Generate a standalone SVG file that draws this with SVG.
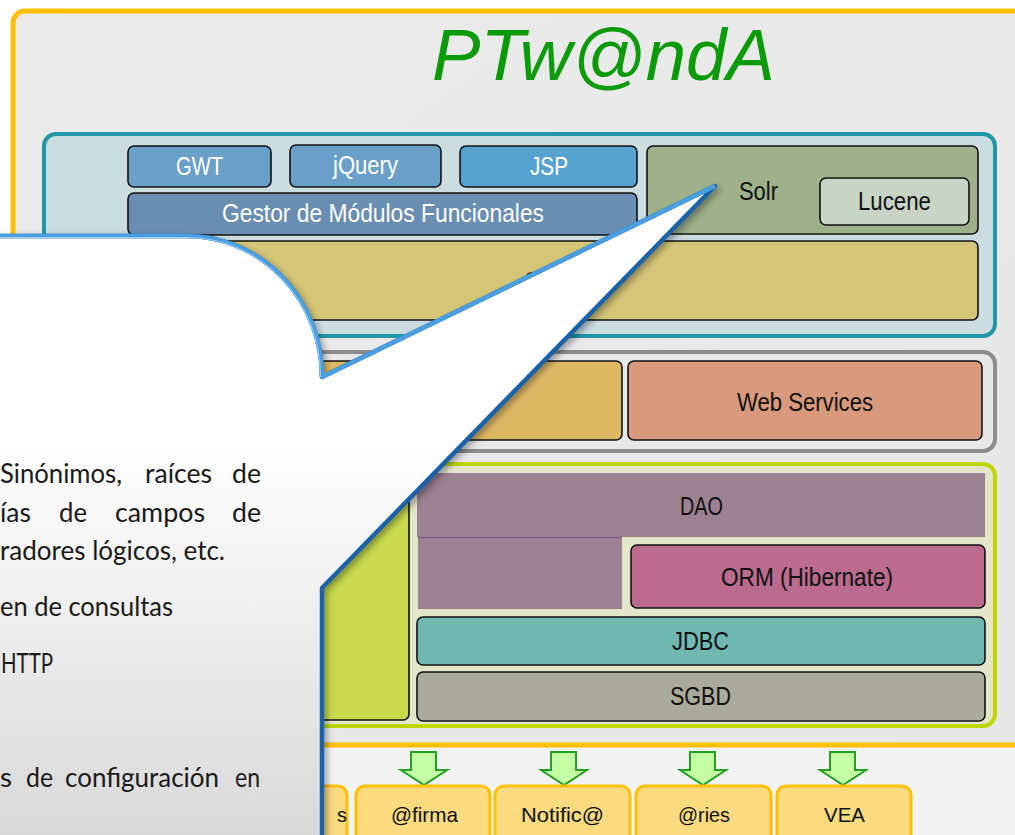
<svg xmlns="http://www.w3.org/2000/svg" width="1015" height="835" viewBox="0 0 1015 835">
<defs>
<style>
.box{stroke:#111;stroke-width:1.6}
.lbl{font-family:"Liberation Sans",Arial,sans-serif;font-size:26px}
.w{fill:#fff}
.k{fill:#111}
.ext{fill:#FADB80;stroke:#FFC000;stroke-width:3}
.extl{font-family:"Liberation Sans",Arial,sans-serif;font-size:21px;fill:#111}
.arr{fill:#C5FFA5;stroke:#22A022;stroke-width:2;stroke-linejoin:miter}
.bt{font-family:Lato,"Open Sans",sans-serif;font-size:27px;fill:#1a1a1a}
</style>
<linearGradient id="bubFill" x1="0" y1="236" x2="0" y2="835" gradientUnits="userSpaceOnUse">
<stop offset="0" stop-color="#ffffff"/>
<stop offset="0.35" stop-color="#ffffff"/>
<stop offset="1" stop-color="#d9d9d9"/>
</linearGradient>
<linearGradient id="bg" x1="0" y1="0" x2="1" y2="1">
<stop offset="0" stop-color="#ebebeb"/>
<stop offset="0.5" stop-color="#e9e9e9"/>
<stop offset="1" stop-color="#e6e6e6"/>
</linearGradient>
<filter id="sh" x="-10%" y="-10%" width="130%" height="130%">
<feDropShadow dx="3" dy="3" stdDeviation="3" flood-color="#000" flood-opacity="0.35"/>
</filter>
</defs>

<rect x="0" y="0" width="1015" height="835" fill="#ffffff"/>
<rect x="0" y="745" width="1015" height="90" fill="#f3f3f3"/>

<g id="frame">
<rect x="13" y="11" width="1030" height="734" rx="12" fill="url(#bg)" stroke="#FFC000" stroke-width="5"/>
<text x="432" y="80" font-family="'Liberation Sans',Arial,sans-serif" font-style="italic" font-size="72" fill="#0A9A0A" textLength="343" lengthAdjust="spacingAndGlyphs">PTw@ndA</text>
</g>

<g id="presentation">
<rect x="44" y="134" width="951" height="202" rx="12" fill="#CBDDE1" stroke="#2397A7" stroke-width="4"/>
<g id="gwt"><rect class="box" x="128" y="146" width="143" height="41" rx="6" fill="#6A9FC8"/><text class="lbl w" x="176" y="175" textLength="47" lengthAdjust="spacingAndGlyphs">GWT</text></g>
<g id="jquery"><rect class="box" x="290" y="145" width="151" height="42" rx="6" fill="#6A9FC8"/><text class="lbl w" x="333" y="174" textLength="65" lengthAdjust="spacingAndGlyphs">jQuery</text></g>
<g id="jsp"><rect class="box" x="460" y="146" width="177" height="41" rx="6" fill="#58A2D0"/><text class="lbl w" x="530" y="175" textLength="38" lengthAdjust="spacingAndGlyphs">JSP</text></g>
<g id="gestor"><rect class="box" x="128" y="193" width="509" height="42" rx="6" fill="#6A8DB2"/><text class="lbl w" x="222" y="222" textLength="322" lengthAdjust="spacingAndGlyphs">Gestor de Módulos Funcionales</text></g>
<g id="solr"><rect class="box" x="647" y="146" width="331" height="88" rx="6" fill="#9EB18A"/><text class="lbl k" x="739" y="200" textLength="39" lengthAdjust="spacingAndGlyphs">Solr</text></g>
<g id="lucene"><rect class="box" x="820" y="178" width="149" height="47" rx="6" fill="#C7D4C6"/><text class="lbl k" x="858" y="210" textLength="73" lengthAdjust="spacingAndGlyphs">Lucene</text></g>
<g id="sbar"><rect class="box" x="128" y="241" width="850" height="79" rx="6" fill="#D5C677"/><text class="lbl k" x="524" y="290">S</text></g>
</g>

<g id="services">
<rect x="44" y="352" width="951" height="99" rx="12" fill="#e8e8e8" stroke="#8C8C8C" stroke-width="4"/>
<g id="orangebox"><rect class="box" x="56" y="361" width="566" height="79" rx="6" fill="#DEB964"/></g>
<g id="webservices"><rect class="box" x="628" y="361" width="354" height="79" rx="6" fill="#D8997D"/><text class="lbl k" x="737" y="411" textLength="136" lengthAdjust="spacingAndGlyphs">Web Services</text></g>
</g>

<g id="persistence">
<rect x="44" y="464" width="951" height="262" rx="12" fill="#E3E6C9" stroke="#BDD700" stroke-width="4"/>
<g id="limebox"><rect class="box" x="56" y="473" width="353" height="247" rx="6" fill="#C9DA4D"/></g>
<g id="dao">
<rect x="417" y="473" width="568" height="64" fill="#9C8193"/>
<rect x="418" y="537" width="204" height="72" fill="#9C8193"/>
<line x1="418" y1="537.5" x2="622" y2="537.5" stroke="#7E5F7E" stroke-width="1.5"/>
<text class="lbl k" x="680" y="515" textLength="43" lengthAdjust="spacingAndGlyphs">DAO</text>
</g>
<g id="orm"><rect class="box" x="631" y="545" width="354" height="63" rx="6" fill="#BA6B8E"/><text class="lbl k" x="721" y="586" textLength="172" lengthAdjust="spacingAndGlyphs">ORM (Hibernate)</text></g>
<g id="jdbc"><rect class="box" x="417" y="617" width="568" height="48" rx="6" fill="#72B8B2"/><text class="lbl k" x="672" y="650" textLength="57" lengthAdjust="spacingAndGlyphs">JDBC</text></g>
<g id="sgbd"><rect class="box" x="417" y="672" width="568" height="49" rx="6" fill="#ABAB9C"/><text class="lbl k" x="670" y="705" textLength="61" lengthAdjust="spacingAndGlyphs">SGBD</text></g>
</g>

<g id="connectors">
<path class="arr" d="M411,752 H436 V770 H447 L424,785 L401,770 H411 Z"/>
<path class="arr" d="M551,752 H576 V770 H587 L564,785 L541,770 H551 Z"/>
<path class="arr" d="M690,752 H715 V770 H726 L703,785 L680,770 H690 Z"/>
<path class="arr" d="M830,752 H855 V770 H866 L843,785 L820,770 H830 Z"/>
</g>

<g id="ext-s"><rect class="ext" x="215" y="786" width="132" height="70" rx="9"/><text class="extl" x="337" y="822" textLength="10" lengthAdjust="spacingAndGlyphs">s</text></g>
<g id="ext-firma"><rect class="ext" x="356" y="786" width="134" height="70" rx="9"/><text class="extl" x="391" y="822" textLength="67" lengthAdjust="spacingAndGlyphs">@firma</text></g>
<g id="ext-notifica"><rect class="ext" x="495" y="786" width="135" height="70" rx="9"/><text class="extl" x="521" y="822" textLength="83" lengthAdjust="spacingAndGlyphs">Notific@</text></g>
<g id="ext-ries"><rect class="ext" x="636" y="786" width="135" height="70" rx="9"/><text class="extl" x="678" y="822" textLength="52" lengthAdjust="spacingAndGlyphs">@ries</text></g>
<g id="ext-vea"><rect class="ext" x="777" y="786" width="134" height="70" rx="9"/><text class="extl" x="824" y="822" textLength="41" lengthAdjust="spacingAndGlyphs">VEA</text></g>

<g id="callout">
<path d="M-10,236 L187,236 A135,141 0 0 1 322,377 L715,186 L322,588 L322,845 L-10,845 Z" fill="url(#bubFill)" stroke="#1F62A6" stroke-width="4.5" stroke-linejoin="round" filter="url(#sh)"/>
<path d="M-10,236 L187,236 A135,141 0 0 1 322,377 L715,186" fill="none" stroke="#4A9FE2" stroke-width="4.5" stroke-linejoin="round"/>
<path d="M-10,237.5 L187,237.5 A133.5,139.5 0 0 1 320.5,377" fill="none" stroke="#9ED0F5" stroke-width="1"/>
<text class="bt" y="483"><tspan x="0" textLength="122" lengthAdjust="spacingAndGlyphs">Sinónimos,</tspan><tspan x="145" textLength="67" lengthAdjust="spacingAndGlyphs">raíces</tspan><tspan x="232" textLength="29" lengthAdjust="spacingAndGlyphs">de</tspan></text>
<text class="bt" y="522"><tspan x="0" textLength="31" lengthAdjust="spacingAndGlyphs">ías</tspan><tspan x="59" textLength="28" lengthAdjust="spacingAndGlyphs">de</tspan><tspan x="115" textLength="90" lengthAdjust="spacingAndGlyphs">campos</tspan><tspan x="232" textLength="29" lengthAdjust="spacingAndGlyphs">de</tspan></text>
<text class="bt" x="0" y="560" textLength="225" lengthAdjust="spacingAndGlyphs">radores lógicos, etc.</text>
<text class="bt" x="0" y="616" textLength="173" lengthAdjust="spacingAndGlyphs">en de consultas</text>
<text class="bt" x="1" y="673" textLength="52" lengthAdjust="spacingAndGlyphs">HTTP</text>
<text class="bt" y="787"><tspan x="0" textLength="12" lengthAdjust="spacingAndGlyphs">s</tspan><tspan x="26" textLength="27" lengthAdjust="spacingAndGlyphs">de</tspan><tspan x="65" textLength="154" lengthAdjust="spacingAndGlyphs">configuración</tspan><tspan x="235" textLength="25" lengthAdjust="spacingAndGlyphs">en</tspan></text>
</g>
</svg>
